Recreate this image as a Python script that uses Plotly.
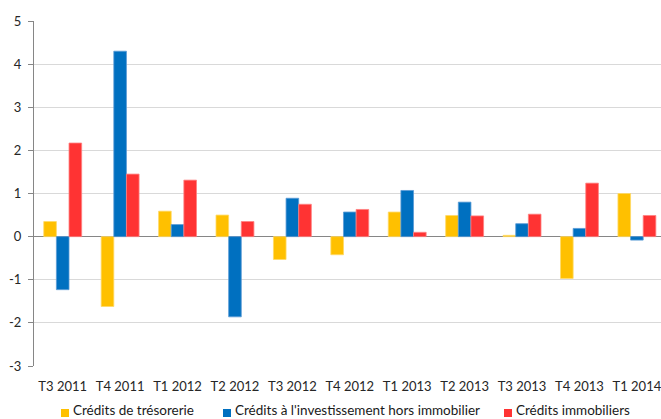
import plotly.graph_objects as go

quarters = ["T3 2011", "T4 2011", "T1 2012", "T2 2012", "T3 2012", "T4 2012",
            "T1 2013", "T2 2013", "T3 2013", "T4 2013", "T1 2014"]

tresorerie = [0.35, -1.62, 0.59, 0.50, -0.53, -0.42, 0.57, 0.49, 0.03, -0.97, 1.00]
investissement = [-1.23, 4.30, 0.28, -1.86, 0.89, 0.57, 1.07, 0.80, 0.30, 0.19, -0.08]
immobiliers = [2.17, 1.45, 1.31, 0.35, 0.75, 0.63, 0.10, 0.48, 0.52, 1.24, 0.49]

y_ticks = [-3, -2, -1, 0, 1, 2, 3, 4, 5]
y_tick_labels = ["-3", "-2", "-1", "0", "1", "2", "3", "4", "5"]

series = [
    ("Crédits de trésorerie", tresorerie, "#FFC000", "#FFD966"),
    ("Crédits à l'investissement hors immobilier", investissement, "#0070C0", "#5B9BD5"),
    ("Crédits immobiliers", immobiliers, "#FF3333", "#FF8080"),
]

W, H = 661, 419
ML, MR, MT, MB = 34, 0, 21, 53
PW, PH = W - ML - MR, H - MT - MB


def px_x(px):
    return (px - ML) / PW


def px_y(py):
    return (H - MB - py) / PH


fig = go.Figure()
for name, vals, color, edge in series:
    fig.add_trace(go.Bar(
        x=quarters, y=vals, name=name,
        marker=dict(color=color, line=dict(color=edge, width=0.8)),
    ))

# legend row under the axis: small colour square followed by the series name
legend_left = [61, 223, 504]
for (name, _, color, _), left in zip(series, legend_left):
    fig.add_shape(type="rect", xref="paper", yref="paper",
                  x0=px_x(left), x1=px_x(left + 8), y0=px_y(417), y1=px_y(409),
                  fillcolor=color, line=dict(width=0))
    fig.add_annotation(xref="paper", yref="paper", x=px_x(left + 11), y=px_y(419),
                       xanchor="left", yanchor="bottom", text=name, showarrow=False,
                       borderpad=0, font=dict(size=13.5, color="#1a1a1a"))

fig.update_layout(
    width=W, height=H,
    margin=dict(l=ML, r=MR, t=MT, b=MB, autoexpand=False),
    paper_bgcolor="white", plot_bgcolor="white",
    font=dict(family="Lato, Carlito, sans-serif", size=13, color="#262626"),
    barmode="group", bargap=0.34, bargroupgap=0,
    showlegend=False,
    xaxis=dict(
        range=[-0.5, 10.42], showgrid=False, showline=False, ticks="",
        tickfont=dict(size=13), ticklabelstandoff=11,
    ),
    yaxis=dict(
        range=[-3, 5], tickvals=y_ticks, ticktext=y_tick_labels,
        showgrid=True, gridcolor="#D9D9D9", gridwidth=1,
        zeroline=True, zerolinecolor="#868686", zerolinewidth=1,
        showline=True, linecolor="#868686", linewidth=1,
        ticks="outside", ticklen=5, tickcolor="#868686",
        tickfont=dict(size=13), ticklabelstandoff=4,
    ),
)

fig.write_html("out.html")
